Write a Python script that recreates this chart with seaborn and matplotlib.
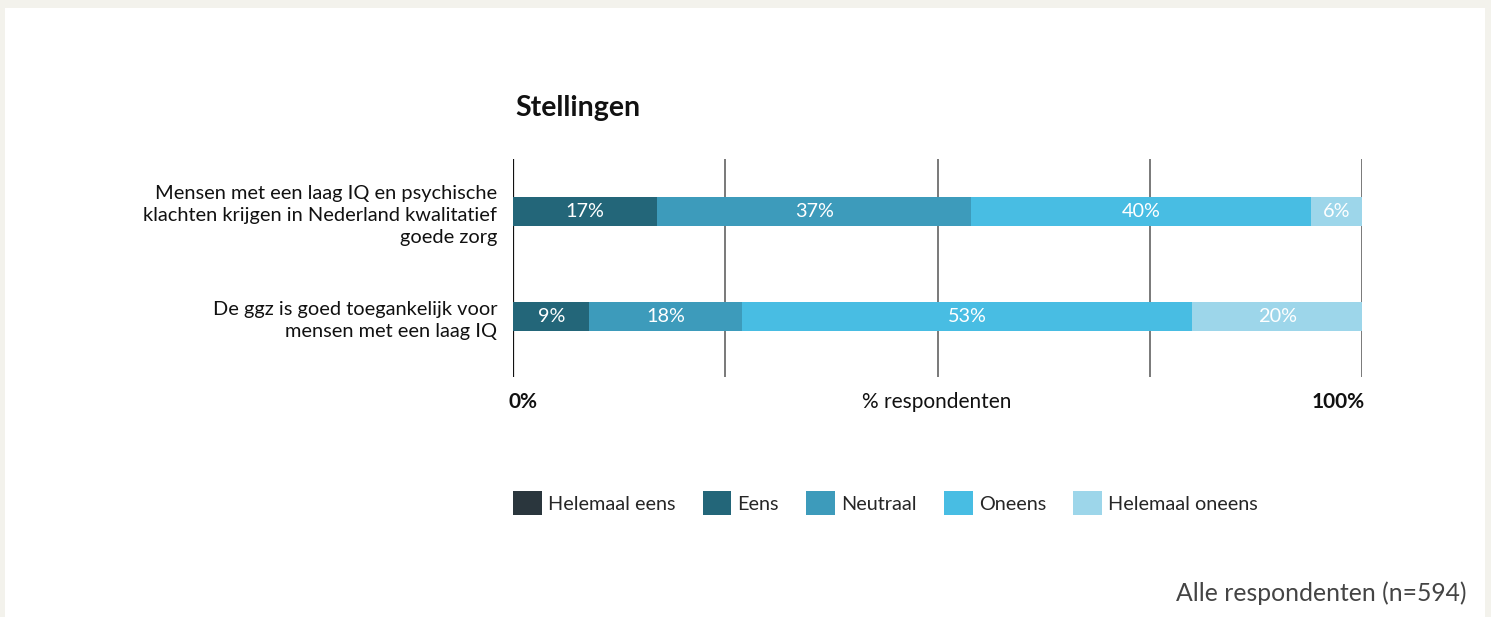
import matplotlib
matplotlib.use("Agg")
import matplotlib.pyplot as plt
from matplotlib.patches import Rectangle, Patch
import seaborn as sns
import pandas as pd
import numpy as np

# ---- data ----
stellingen = [
    "Mensen met een laag IQ en psychische\nklachten krijgen in Nederland kwalitatief\ngoede zorg",
    "De ggz is goed toegankelijk voor\nmensen met een laag IQ",
]
categorieen = ["Helemaal eens", "Eens", "Neutraal", "Oneens", "Helemaal oneens"]
helemaal_eens = [0, 0]
eens = [17, 9]
neutraal = [37, 18]
oneens = [40, 53]
helemaal_oneens = [6, 20]
kleuren = ["#2a363d", "#236679", "#3d9bbb", "#48bde3", "#9dd6ea"]
grid_ticks = [0, 25, 50, 75, 100]

sns.set_theme(style="white")
FONT = ["Lato", "DejaVu Sans"]
plt.rcParams["font.family"] = FONT

W, H = 1491, 617
fig = plt.figure(figsize=(W / 100, H / 100), dpi=100)
fig.patch.set_facecolor("#f3f2ec")
fig.add_artist(Rectangle((5 / W, 0), (1485 - 5) / W, 1 - 8 / H,
                         transform=fig.transFigure, facecolor="white",
                         edgecolor="none", zorder=0))

ax = fig.add_axes([513 / W, 1 - 377 / H, (1362 - 513) / W, (377 - 159) / H])
ax.set_facecolor("none")

series = [helemaal_eens, eens, neutraal, oneens, helemaal_oneens]
df = pd.DataFrame({"stelling": stellingen})
cum = np.zeros(len(stellingen))
cums = []
for name, vals in zip(categorieen, series):
    cum = cum + np.array(vals, dtype=float)
    df[name] = cum.copy()
    cums.append(cum.copy())

for xv in grid_ticks:
    ax.axvline(xv, color="#111111" if xv == 0 else "#555555",
               lw=1.6 if xv == 0 else 1.1, zorder=0.5)

for name, col in reversed(list(zip(categorieen, kleuren))):
    sns.barplot(data=df, x=name, y="stelling", color=col, orient="h",
                width=0.275, ax=ax, saturation=1, zorder=2,
                linewidth=0, edgecolor="none")

for j, (name, vals) in enumerate(zip(categorieen, series)):
    for i, v in enumerate(vals):
        if v > 0:
            ax.text(cums[j][i] - v / 2, i, f"{v}%", ha="center", va="center",
                    color="white", fontsize=14.3, zorder=3)

ax.set_xlim(0, 100)
ax.set_ylim(1.57, -0.5)
ax.set_xlabel("")
ax.set_ylabel("")
ax.set_xticks([])
ax.tick_params(axis="y", length=0, pad=11.5, labelsize=14.4, labelcolor="#111111")
for lbl in ax.get_yticklabels():
    lbl.set_linespacing(1.35)
for s in ax.spines.values():
    s.set_visible(False)

fig.text(515 / W, 1 - 108 / H, "Stellingen", fontsize=20.5, fontweight="bold",
         color="#111111", ha="left", va="center")
fig.text(509 / W, 1 - 402 / H, "0%", fontsize=15, fontweight="bold",
         color="#111111", ha="left", va="center")
fig.text(1365 / W, 1 - 402 / H, "100%", fontsize=15, fontweight="bold",
         color="#111111", ha="right", va="center")
fig.text(937 / W, 1 - 402 / H, "% respondenten", fontsize=15,
         color="#111111", ha="center", va="center")

handles = [Patch(facecolor=c, edgecolor="none", label=n) for n, c in zip(categorieen, kleuren)]
fig.legend(handles=handles, loc="center left", bbox_to_anchor=(513 / W, 1 - 503 / H),
           ncol=5, frameon=False, fontsize=14.3, handlelength=1.45, handleheight=1.45,
           handletextpad=0.3, columnspacing=1.38, borderpad=0, borderaxespad=0)

fig.text(1467 / W, 1 - 593 / H, "Alle respondenten (n=594)", fontsize=17.8,
         color="#444444", ha="right", va="center")

fig.savefig("out.png", dpi=100, facecolor=fig.get_facecolor())
